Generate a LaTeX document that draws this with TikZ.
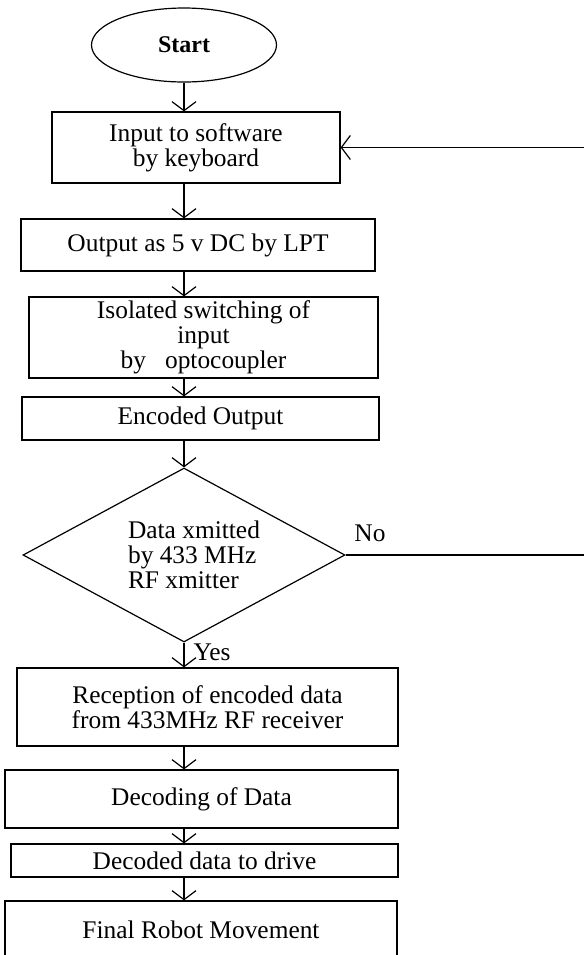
\documentclass[tikz,border=0pt]{standalone}
\usepackage{fontspec}
\setmainfont{Liberation Serif}
\usepackage{tikz}
\usetikzlibrary{shapes.geometric,arrows.meta}

\begin{document}
\begin{tikzpicture}[
  x=0.5pt, y=-0.5pt,
  font=\fontsize{12.7}{12.5}\selectfont,
  block/.style={draw, line width=0.6pt, inner sep=0pt, align=center},
  startblock/.style={block, ellipse, font=\fontsize{12}{12.5}\selectfont\bfseries},
  decblock/.style={block, diamond, aspect=1.85, align=left},
  arrow/.style={-{Straight Barb[length=4.5pt,width=12pt]}, line width=0.6pt}
]
\useasboundingbox (0,0) rectangle (584,955);

% Flow
\node[startblock, minimum width=92.5pt, minimum height=37pt] (start) at (184,45) {Start};
\node[block, minimum width=144pt, minimum height=35.5pt] (input) at (196,147.5)
  {Input to software\\by keyboard};
\node[block, minimum width=177pt, minimum height=26pt] (lpt) at (198,245)
  {Output as 5 v DC by LPT};
\node[block, minimum width=174.5pt, minimum height=40.5pt] (opto) at (203.5,337.5)
  {Isolated switching of\\input\hspace*{2em}\\by\ \ \ optocoupler};
\node[block, minimum width=178.5pt, minimum height=21.5pt] (encoded) at (200.5,418.5)
  {Encoded Output};
\node[decblock, minimum width=161pt, minimum height=87pt] (decision) at (184,555)
  {\hspace*{10pt}Data xmitted\\\hspace*{10pt}by 433 MHz\\\hspace*{10pt}RF xmitter};
\node[block, minimum width=190.5pt, minimum height=39pt] (reception) at (207.5,707)
  {Reception of encoded data\\from 433MHz RF receiver};
\node[block, minimum width=196.5pt, minimum height=29pt] (decoding) at (201.5,799)
  {Decoding of Data};
\node[block, minimum width=193.5pt, minimum height=16.5pt] (drive) at (204.5,860.5)
  {Decoded data to drive};
\node[block, minimum width=196pt, minimum height=28.5pt] (final) at (201,929.5)
  {Final Robot Movement};

% Labels
\node (yes) at (212,652) {Yes};
\node (no) at (370,533) {No};

% Arrows down the spine
\coordinate (spine) at (184,0);
\draw[arrow] (start.south) -- (spine |- input.north);
\draw[arrow] (spine |- input.south) -- (spine |- lpt.north);
\draw[arrow] (spine |- lpt.south) -- (spine |- opto.north);
\draw[arrow] (spine |- opto.south) -- (spine |- encoded.north);
\draw[arrow] (spine |- encoded.south) -- (decision.north);
\draw[arrow] (decision.south) -- (spine |- reception.north);
\draw[arrow] (spine |- reception.south) -- (spine |- decoding.north);
\draw[arrow] (spine |- decoding.south) -- (spine |- drive.north);
\draw[arrow] (spine |- drive.south) -- (spine |- final.north);

% Loop back on No
\coordinate (loopx) at (600,0);
\draw[arrow] (decision.east) -- (decision.east -| loopx) |- (input.east);

\end{tikzpicture}
\end{document}
